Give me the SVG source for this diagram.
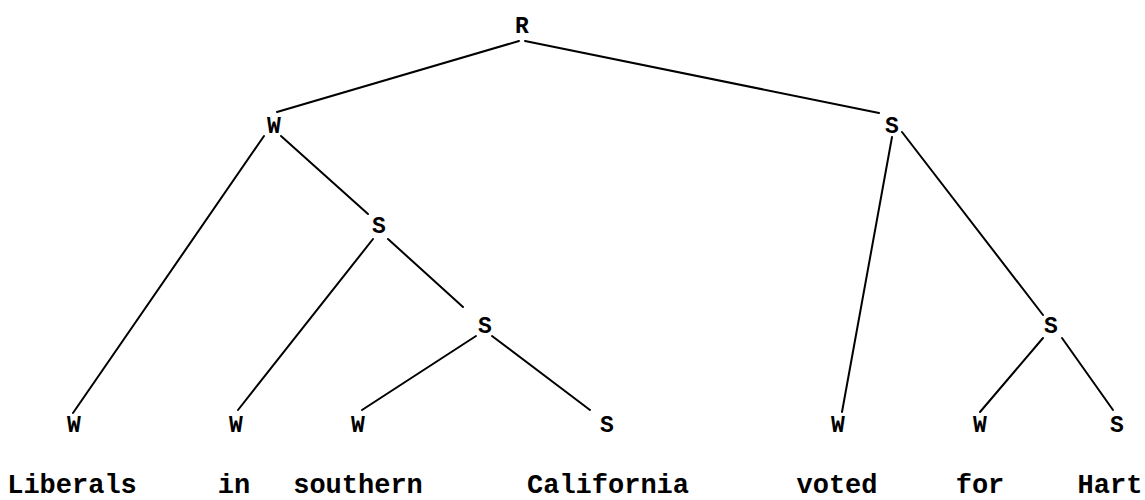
<svg xmlns="http://www.w3.org/2000/svg" width="1145" height="500" viewBox="0 0 1145 500">
<style>
.lbl{font-family:"Liberation Mono","Courier New",monospace;font-weight:bold;font-size:23px;fill:#000;text-anchor:middle}
.word{font-family:"Liberation Mono","Courier New",monospace;font-weight:bold;font-size:27px;fill:#000;text-anchor:middle}
.edge{stroke:#000;stroke-width:2;fill:none;stroke-linecap:round}
</style>
<rect width="1145" height="500" fill="#fff"/>
<g id="connectors">
<line class="edge" x1="519" y1="41" x2="277" y2="112"/>
<line class="edge" x1="525" y1="41" x2="879" y2="113"/>
<line class="edge" x1="264" y1="136" x2="73" y2="413"/>
<line class="edge" x1="281" y1="136" x2="368" y2="214"/>
<line class="edge" x1="373" y1="239" x2="238" y2="410"/>
<line class="edge" x1="388" y1="239" x2="463" y2="307"/>
<line class="edge" x1="476" y1="336" x2="362" y2="410"/>
<line class="edge" x1="492" y1="336" x2="590" y2="410"/>
<line class="edge" x1="892" y1="137" x2="842" y2="412"/>
<line class="edge" x1="902" y1="132" x2="1043" y2="315"/>
<line class="edge" x1="1043" y1="338" x2="980" y2="412"/>
<line class="edge" x1="1062" y1="338" x2="1113" y2="410"/>
</g>
<g id="n-root"><text class="lbl" x="522" y="33">R</text></g>
<g id="n-w1"><text class="lbl" x="274" y="133">W</text></g>
<g id="n-s1"><text class="lbl" x="892" y="133">S</text></g>
<g id="n-s2"><text class="lbl" x="379" y="233">S</text></g>
<g id="n-s3"><text class="lbl" x="485" y="333">S</text></g>
<g id="n-s4"><text class="lbl" x="1051" y="333">S</text></g>
<g id="n-l1"><text class="lbl" x="74" y="432">W</text></g>
<g id="n-l2"><text class="lbl" x="236" y="432">W</text></g>
<g id="n-l3"><text class="lbl" x="358" y="432">W</text></g>
<g id="n-l4"><text class="lbl" x="607" y="432">S</text></g>
<g id="n-l5"><text class="lbl" x="838" y="432">W</text></g>
<g id="n-l6"><text class="lbl" x="980" y="432">W</text></g>
<g id="n-l7"><text class="lbl" x="1117" y="432">S</text></g>
<g id="words">
<text class="word" x="72" y="493">Liberals</text>
<text class="word" x="234" y="493">in</text>
<text class="word" x="358" y="493">southern</text>
<text class="word" x="608" y="493">California</text>
<text class="word" x="837" y="493">voted</text>
<text class="word" x="980" y="493">for</text>
<text class="word" x="1110" y="493">Hart</text>
</g>
</svg>
